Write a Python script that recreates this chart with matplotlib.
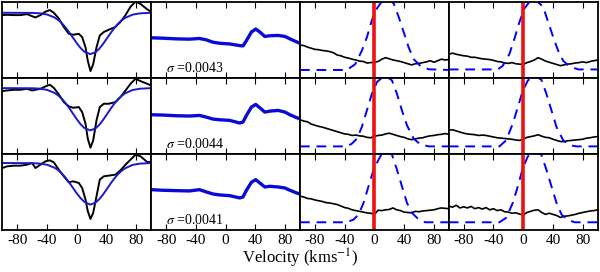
import numpy as np
import matplotlib
matplotlib.use('Agg')
import matplotlib.pyplot as plt

plt.rcParams['font.family'] = ['Liberation Serif', 'DejaVu Serif']
plt.rcParams['mathtext.fontset'] = 'stix'
plt.rcParams['axes.unicode_minus'] = False

# ---- column 1 : observed line profile (black) and gaussian fit (blue)
v_obs = [-100, -93.7, -84.8, -75.8, -66.8, -60.1, -55.6, -48.9, -42.2, -36.3, -30.9, -24.2, -17.5,
         -10.8, -4.9, 2.7, 7.2, 11.7, 14.8, 18.4, 22, 26.5, 30.9, 36.3, 43, 52, 58.7, 65.5, 72.2,
         79, 85.7, 94.6, 100]
obs1 = [0.826, 0.830, 0.826, 0.826, 0.839, 0.812, 0.795, 0.826, 0.871, 0.893, 0.857, 0.781, 0.670,
        0.580, 0.567, 0.580, 0.536, 0.402, 0.223, 0.089, 0.179, 0.402, 0.558, 0.603, 0.634, 0.670,
        0.737, 0.826, 0.937, 1.004, 0.973, 0.902, 0.871]
obs2 = [0.825, 0.833, 0.842, 0.842, 0.855, 0.833, 0.842, 0.855, 0.886, 0.908, 0.868, 0.781, 0.680,
        0.623, 0.605, 0.614, 0.548, 0.395, 0.197, 0.079, 0.175, 0.439, 0.614, 0.658, 0.658, 0.680,
        0.746, 0.833, 0.921, 0.987, 0.956, 0.921, 0.899]
obs3 = [0.811, 0.833, 0.842, 0.842, 0.855, 0.877, 0.811, 0.855, 0.899, 0.912, 0.886, 0.789, 0.702,
        0.623, 0.636, 0.614, 0.548, 0.395, 0.241, 0.140, 0.219, 0.439, 0.658, 0.702, 0.711, 0.724,
        0.781, 0.855, 0.921, 0.987, 0.965, 0.890, 0.890]

v_fit = [-100, -60, -50, -40, -30, -25, -20, -15, -10, -5, 0, 5, 10, 18, 25, 30, 35, 40, 45, 50,
         55, 60, 65, 75, 85, 100]
fit1 = [0.857, 0.855, 0.850, 0.834, 0.795, 0.762, 0.718, 0.662, 0.597, 0.526, 0.456, 0.393, 0.344,
        0.312, 0.337, 0.381, 0.442, 0.512, 0.583, 0.650, 0.708, 0.754, 0.789, 0.832, 0.849, 0.857]
fit2 = [0.864, 0.862, 0.857, 0.841, 0.801, 0.768, 0.722, 0.665, 0.599, 0.526, 0.454, 0.389, 0.339,
        0.307, 0.332, 0.377, 0.440, 0.512, 0.585, 0.654, 0.713, 0.760, 0.796, 0.839, 0.856, 0.864]
fit3 = [0.877, 0.875, 0.870, 0.854, 0.815, 0.783, 0.738, 0.682, 0.618, 0.547, 0.477, 0.415, 0.366,
        0.329, 0.354, 0.398, 0.458, 0.528, 0.600, 0.668, 0.727, 0.773, 0.808, 0.852, 0.869, 0.877]

# ---- column 2 : residual-like smooth curve (thick blue) and sigma value
v_res = [-100, -84.7, -66.7, -48.6, -35, -26, -17, -8, 5.4, 19, 23.4, 28, 34.7, 40.5, 46, 52.7,
         59.5, 70.7, 79.7, 86.5, 95.5, 100]
res1 = [0.527, 0.522, 0.513, 0.509, 0.518, 0.500, 0.469, 0.455, 0.446, 0.424, 0.420, 0.490, 0.603,
        0.643, 0.603, 0.545, 0.554, 0.558, 0.545, 0.513, 0.473, 0.455]
res2 = [0.513, 0.509, 0.500, 0.496, 0.504, 0.482, 0.456, 0.447, 0.439, 0.404, 0.417, 0.504, 0.614,
        0.649, 0.605, 0.548, 0.561, 0.570, 0.548, 0.513, 0.474, 0.461]
res3 = [0.526, 0.518, 0.513, 0.509, 0.526, 0.496, 0.469, 0.456, 0.447, 0.417, 0.430, 0.518, 0.623,
        0.658, 0.614, 0.561, 0.570, 0.561, 0.548, 0.518, 0.482, 0.469]
sigmas = ['0.0043', '0.0044', '0.0041']

# ---- columns 3 and 4 : noisy profile (black) and model (blue dashed)
v_grid = np.linspace(-100, 100, 41)
noisyA1 = [0.430, 0.425, 0.405, 0.390, 0.375, 0.370, 0.360, 0.355, 0.345, 0.330, 0.300, 0.290, 0.270,
           0.260, 0.245, 0.235, 0.220, 0.215, 0.195, 0.200, 0.205, 0.215, 0.245, 0.265, 0.250, 0.235,
           0.225, 0.215, 0.200, 0.185, 0.170, 0.185, 0.190, 0.200, 0.210, 0.225, 0.205, 0.225, 0.245,
           0.235, 0.240]
noisyA2 = [0.447, 0.430, 0.420, 0.390, 0.375, 0.360, 0.350, 0.335, 0.320, 0.305, 0.290, 0.275, 0.260,
           0.255, 0.240, 0.245, 0.235, 0.230, 0.215, 0.210, 0.230, 0.240, 0.245, 0.260, 0.270, 0.255,
           0.240, 0.225, 0.215, 0.195, 0.185, 0.195, 0.205, 0.210, 0.225, 0.235, 0.240, 0.250, 0.255,
           0.265, 0.255]
noisyA3 = [0.440, 0.430, 0.410, 0.405, 0.390, 0.380, 0.370, 0.355, 0.350, 0.340, 0.330, 0.310, 0.290,
           0.280, 0.260, 0.250, 0.240, 0.230, 0.220, 0.215, 0.200, 0.255, 0.250, 0.260, 0.265, 0.285,
           0.260, 0.250, 0.230, 0.225, 0.220, 0.240, 0.235, 0.245, 0.250, 0.255, 0.260, 0.275, 0.285,
           0.280, 0.275]
noisyB1 = [0.310, 0.325, 0.310, 0.300, 0.290, 0.285, 0.270, 0.270, 0.260, 0.250, 0.245, 0.240, 0.230,
           0.215, 0.210, 0.195, 0.190, 0.200, 0.185, 0.180, 0.175, 0.200, 0.215, 0.235, 0.265, 0.245,
           0.220, 0.205, 0.190, 0.175, 0.160, 0.170, 0.180, 0.185, 0.195, 0.200, 0.210, 0.200, 0.215,
           0.225, 0.235]
noisyB2 = [0.310, 0.315, 0.300, 0.285, 0.270, 0.260, 0.255, 0.250, 0.240, 0.245, 0.240, 0.230, 0.220,
           0.210, 0.205, 0.200, 0.195, 0.190, 0.180, 0.175, 0.190, 0.215, 0.225, 0.235, 0.250, 0.230,
           0.215, 0.210, 0.190, 0.175, 0.160, 0.160, 0.170, 0.175, 0.180, 0.185, 0.190, 0.205, 0.210,
           0.220, 0.225]
noisyB3 = [0.310, 0.295, 0.320, 0.285, 0.300, 0.285, 0.305, 0.275, 0.290, 0.270, 0.290, 0.260, 0.275,
           0.250, 0.260, 0.235, 0.230, 0.215, 0.220, 0.205, 0.190, 0.225, 0.240, 0.255, 0.260, 0.225,
           0.200, 0.215, 0.200, 0.185, 0.160, 0.175, 0.180, 0.190, 0.200, 0.215, 0.225, 0.235, 0.245,
           0.250, 0.260]

v_modA1 = [-100, -37, -25.8, -16.9, -10, -3.4, 3.4, 10, 17, 25.8, 32.6, 39.3, 46, 52.8, 61.8, 73, 100]
modA1 = [0.103, 0.103, 0.179, 0.357, 0.536, 0.759, 0.915, 1.004, 1.05, 0.982, 0.804, 0.603, 0.402,
         0.246, 0.156, 0.112, 0.103]
v_modA2 = [-100, -37, -30.3, -23.6, -16.9, -10.1, -3.4, 3.4, 10, 14.6, 23.6, 30.3, 37, 43.8, 52.8,
           61.8, 73, 100]
modA2 = [0.096, 0.096, 0.132, 0.197, 0.351, 0.570, 0.789, 0.943, 1.0, 1.03, 0.965, 0.789, 0.570,
         0.373, 0.197, 0.123, 0.096, 0.096]
v_modA3 = [-100, -37, -28, -21.3, -14.6, -7.9, -1.1, 5.6, 10, 14.6, 23.6, 30.3, 37, 43.8, 50.6,
           59.6, 68.5, 100]
modA3 = [0.096, 0.096, 0.132, 0.197, 0.351, 0.570, 0.789, 0.921, 1.0, 1.03, 0.987, 0.789, 0.570,
         0.351, 0.219, 0.132, 0.096, 0.096]
v_modB1 = [-100, -34.4, -27.6, -18.6, -11.8, -5, 1.8, 8.6, 14, 26.7, 33.5, 40.3, 47, 53.8, 62.9,
           74.2, 100]
modB1 = [0.110, 0.110, 0.156, 0.312, 0.513, 0.737, 0.915, 1.004, 1.05, 0.937, 0.737, 0.536, 0.357,
         0.223, 0.147, 0.110, 0.110]
v_modB2 = [-100, -32, -23, -14, -7.2, -0.5, 6.3, 10.9, 15.4, 24.4, 31.2, 38, 44.8, 53.8, 62.9, 72, 100]
modB2 = [0.096, 0.096, 0.175, 0.395, 0.614, 0.833, 0.965, 1.0, 1.03, 0.974, 0.789, 0.570, 0.351,
         0.175, 0.110, 0.096, 0.096]
v_modB3 = [-100, -32, -23, -14, -7.2, -0.5, 6.3, 10.9, 15.4, 24.4, 31.2, 38, 44.8, 51.6, 60.6, 69.7, 100]
modB3 = [0.096, 0.096, 0.154, 0.351, 0.570, 0.811, 0.965, 1.0, 1.03, 0.987, 0.789, 0.570, 0.351,
         0.197, 0.123, 0.096, 0.096]

v_zero = 0
ticks = [-80, -40, 0, 40, 80]

#----------------------------------------------------

fig, axes = plt.subplots(3, 4, figsize=(6, 2.72), dpi=100)
plt.subplots_adjust(left=0.004, right=0.996, top=0.993, bottom=0.156, wspace=0, hspace=0)

obs = [obs1, obs2, obs3]
fits = [fit1, fit2, fit3]
res = [res1, res2, res3]
noisyA = [noisyA1, noisyA2, noisyA3]
noisyB = [noisyB1, noisyB2, noisyB3]
modA = [(v_modA1, modA1), (v_modA2, modA2), (v_modA3, modA3)]
modB = [(v_modB1, modB1), (v_modB2, modB2), (v_modB3, modB3)]

for i in range(3):
    ax = axes[i, 0]
    ax.plot(v_obs, obs[i], color='k', lw=1.4)
    ax.plot(v_fit, fits[i], color='#1a1acc', lw=1.4)

    ax = axes[i, 1]
    ax.plot(v_res, res[i], color='#0a0ad8', lw=2.4)
    ax.text(0.1, 0.13, r'$\sigma$ =' + sigmas[i], transform=ax.transAxes,
            fontsize=10, va='center', ha='left')

    for ax, noisy, mod in [(axes[i, 2], noisyA[i], modA[i]), (axes[i, 3], noisyB[i], modB[i])]:
        ax.plot(v_grid, noisy, color='k', lw=1.2)
        ax.plot(mod[0], mod[1], color='b', lw=1.4, ls=(0, (5, 3.5)))
        ax.axvline(v_zero, color='#ee1111', lw=2.6)

for ax in axes.flat:
    ax.set_xlim(-100, 100)
    ax.set_ylim(0, 1)
    ax.set_yticks([])
    ax.set_xticks(ticks)
    ax.tick_params(axis='x', direction='in', top=True, length=4, width=0.8, labelsize=11, pad=3)
    for s in ax.spines.values():
        s.set_linewidth(1.3)
    if ax not in axes[2]:
        ax.set_xticklabels([])

fig.text(0.5, 0.05, r'Velocity (kms$^{-1}$)', ha='center', va='center', fontsize=12)

plt.savefig('out.png', dpi=100)
